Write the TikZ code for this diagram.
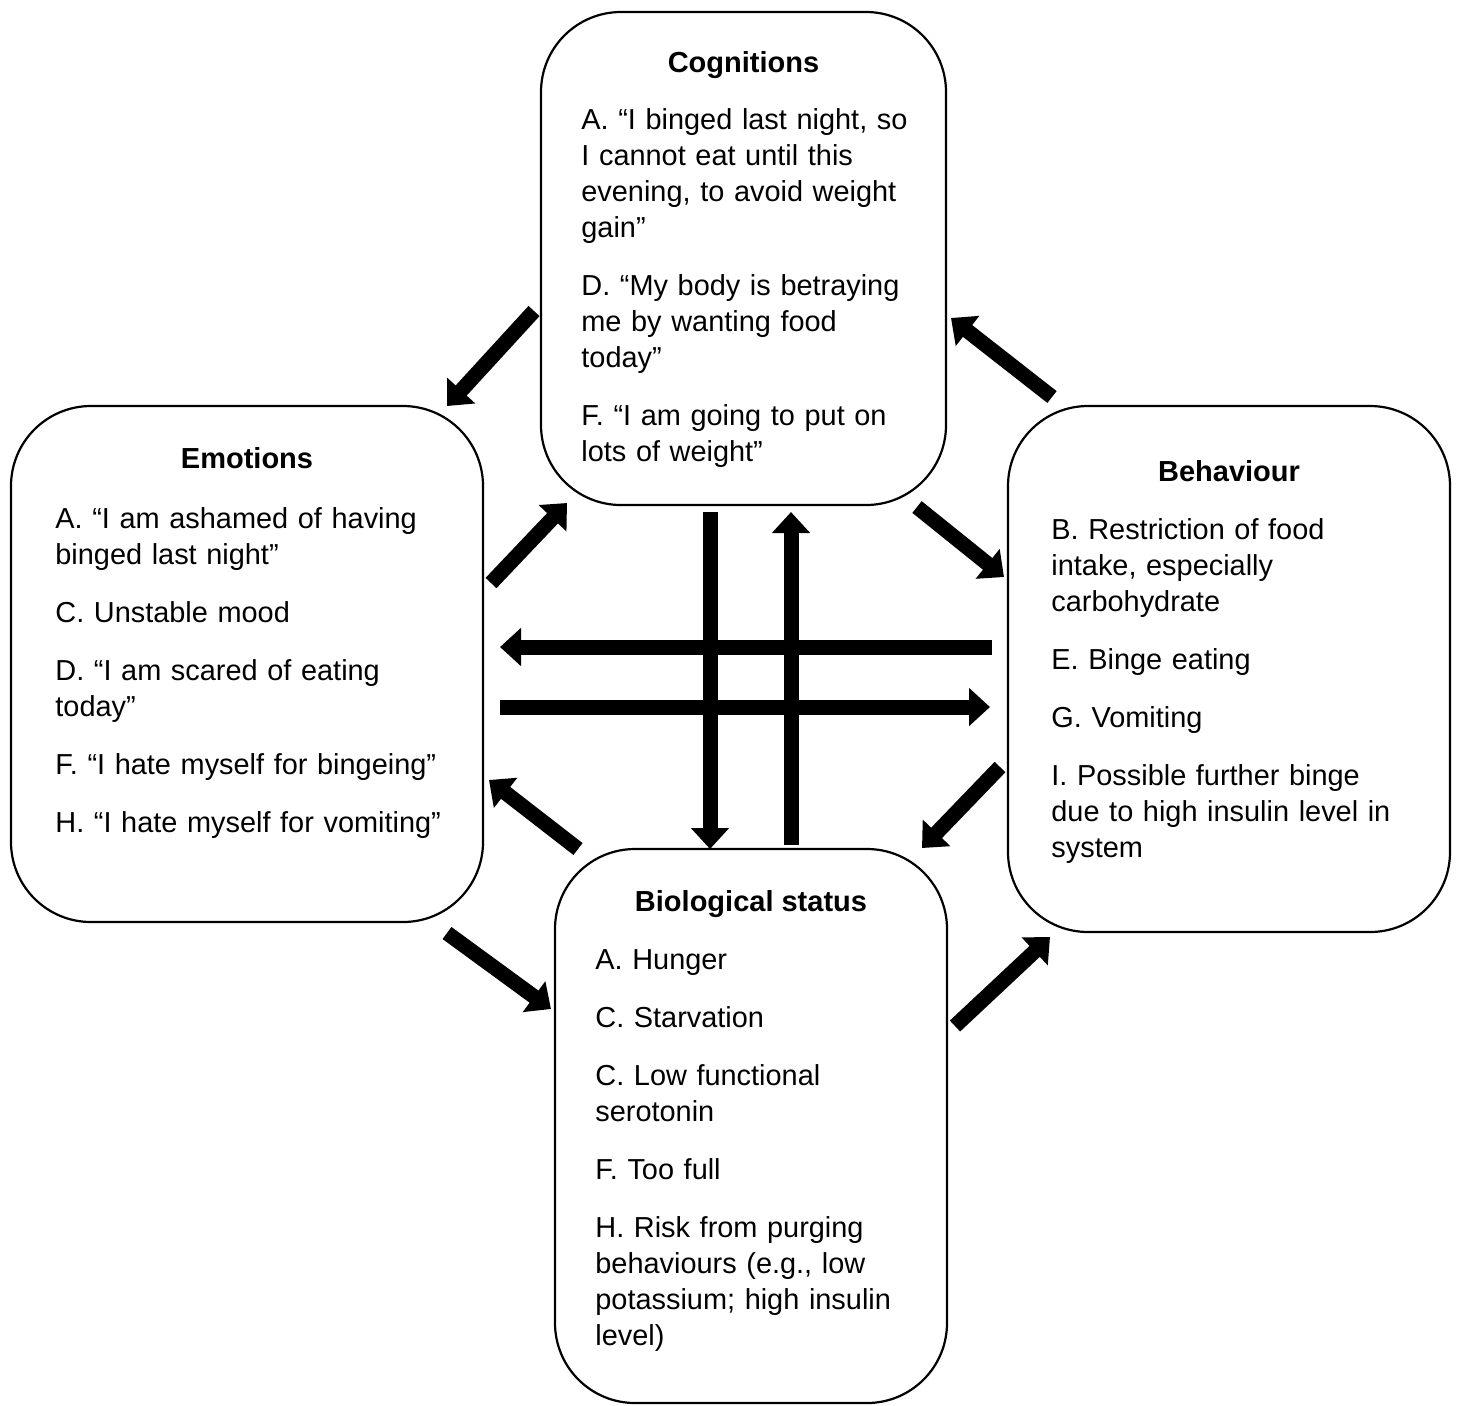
\documentclass[tikz,border=0pt]{standalone}
\usepackage{fontspec}
\setmainfont{Liberation Sans}
\usetikzlibrary{arrows.meta}
\tikzset{
  box/.style={draw=black, line width=1.1pt, rounded corners=40pt, inner sep=0pt},
  ttl/.style={font=\fontsize{14.5}{18}\selectfont\bfseries, inner sep=0pt, anchor=base},
  body/.style={font=\fontsize{14.45}{18}\selectfont, inner sep=0pt, align=left, anchor=base west},
  arr/.style={line width=7.5pt, -{Triangle[length=10.5pt,width=18.5pt]}}
}
\begin{document}
\begin{tikzpicture}[x=0.5pt,y=-0.5pt]
\useasboundingbox (0,0) rectangle (1461,1405);
% boxes
\node[box, minimum width=202.5pt, minimum height=246.5pt] (cog) at (743.5,258.5) {};
\node[box, minimum width=236pt, minimum height=258pt] (emo) at (247,664) {};
\node[box, minimum width=221pt, minimum height=263pt] (beh) at (1229,669) {};
\node[box, minimum width=196pt, minimum height=277pt] (bio) at (751,1126) {};
% titles
\node[ttl] (cogt) at (743.5,72) {Cognitions};
\node[ttl] (emot) at (247,468) {Emotions};
\node[ttl] (beht) at (1229,481) {Behaviour};
\node[ttl] (biot) at (751,911) {Biological status};
% bodies
\node[body, text width=175pt] (cogb) at (581,129) {A. “I binged last night, so\\ I cannot eat until this\\ evening, to avoid weight\\ gain”\\[11pt] D. “My body is betraying\\ me by wanting food\\ today”\\[11pt] F. “I am going to put on\\ lots of weight”};
\node[body, text width=205pt] (emob) at (55,528) {A. “I am ashamed of having\\ binged last night”\\[11pt] C. Unstable mood\\[11pt] D. “I am scared of eating\\ today”\\[11pt] F. “I hate myself for bingeing”\\[11pt] H. “I hate myself for vomiting”};
\node[body, text width=190pt] (behb) at (1051,539) {B. Restriction of food\\ intake, especially\\ carbohydrate\\[11pt] E. Binge eating\\[11pt] G. Vomiting\\[11pt] I. Possible further binge\\ due to high insulin level in\\ system};
\node[body, text width=170pt] (biob) at (595,969) {A. Hunger\\[11pt] C. Starvation\\[11pt] C. Low functional\\ serotonin\\[11pt] F. Too full\\[11pt] H. Risk from purging\\ behaviours (e.g., low\\ potassium; high insulin\\ level)};
% arrow end points
\coordinate (ce1) at (534,311);   \coordinate (ce2) at (447,406);
\coordinate (bc1) at (1052,397);  \coordinate (bc2) at (951,318);
\coordinate (ec1) at (491,583);   \coordinate (ec2) at (567,503);
\coordinate (cb1) at (917,507);   \coordinate (cb2) at (1004,577);
\coordinate (cd1) at (710,512);   \coordinate (cd2) at (710,849);
\coordinate (du1) at (791,845);   \coordinate (du2) at (791,512);
\coordinate (be1) at (992,647);   \coordinate (be2) at (500,647);
\coordinate (eb1) at (500,707);   \coordinate (eb2) at (990,707);
\coordinate (xe1) at (578,849);   \coordinate (xe2) at (489,780);
\coordinate (bx1) at (1000,767);  \coordinate (bx2) at (922,848);
\coordinate (ex1) at (447,933);   \coordinate (ex2) at (551,1009);
\coordinate (xb1) at (955,1026);  \coordinate (xb2) at (1050,937);
% arrows
\draw[arr] (ce1) -- (ce2);
\draw[arr] (bc1) -- (bc2);
\draw[arr] (ec1) -- (ec2);
\draw[arr] (cb1) -- (cb2);
\draw[arr] (cd1) -- (cd2);
\draw[arr] (du1) -- (du2);
\draw[arr] (be1) -- (be2);
\draw[arr] (eb1) -- (eb2);
\draw[arr] (xe1) -- (xe2);
\draw[arr] (bx1) -- (bx2);
\draw[arr] (ex1) -- (ex2);
\draw[arr] (xb1) -- (xb2);
\end{tikzpicture}
\end{document}
